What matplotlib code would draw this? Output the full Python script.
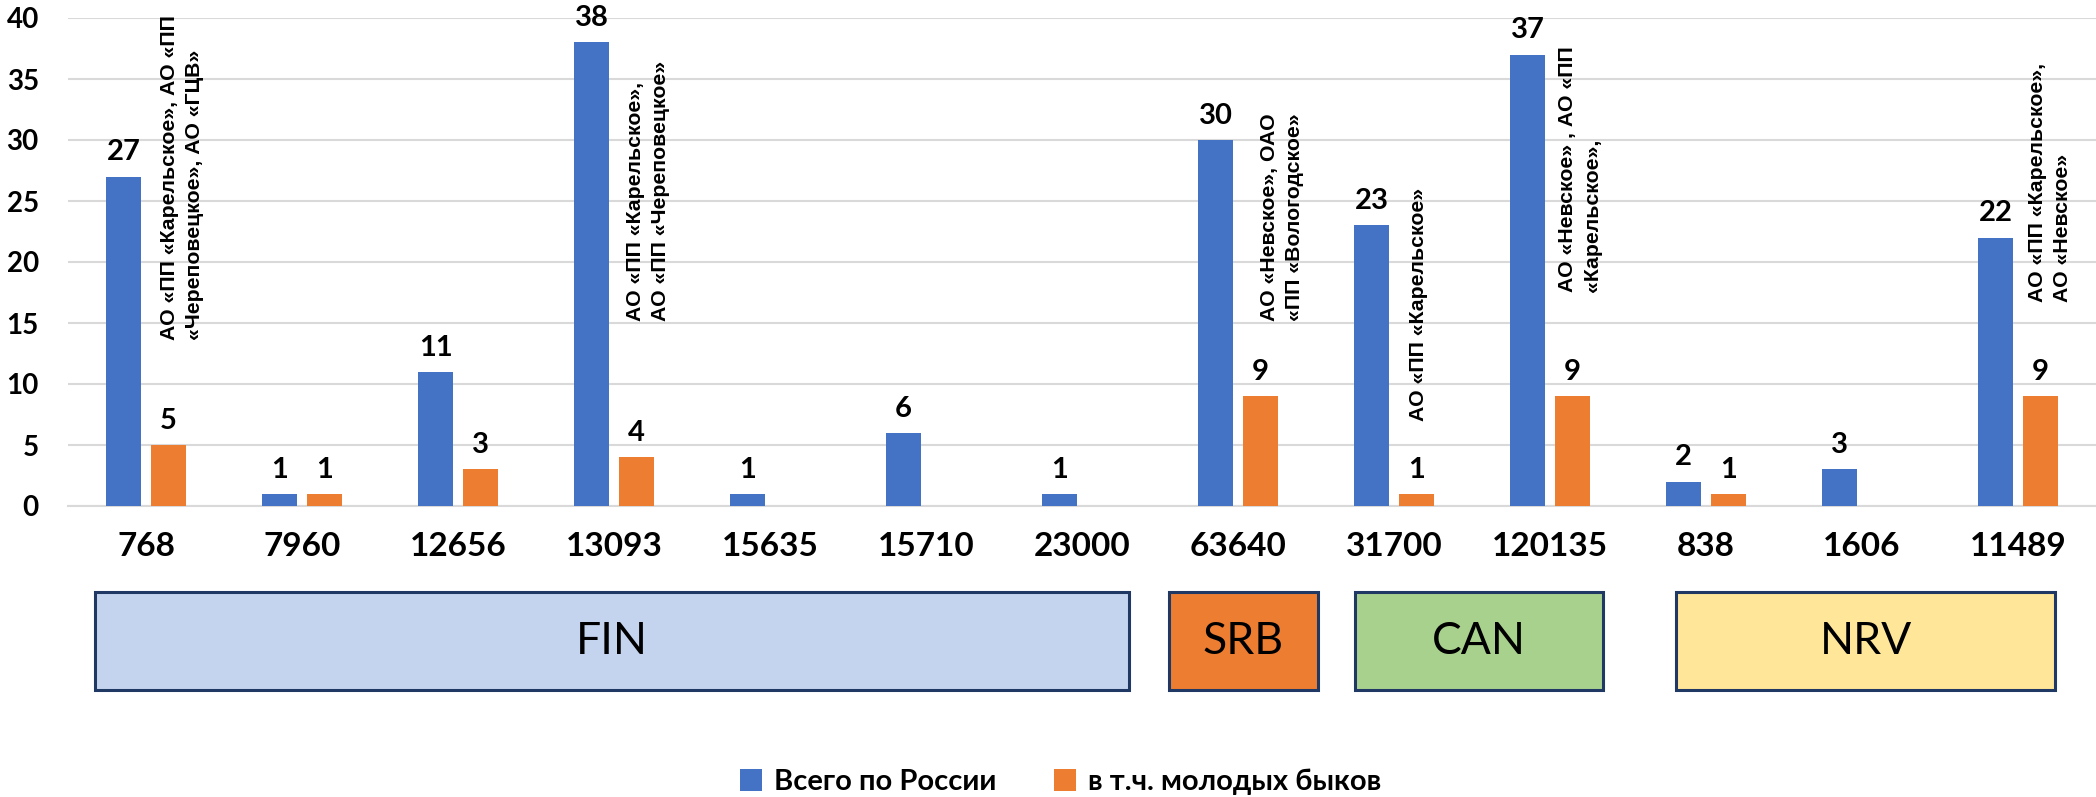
import matplotlib
matplotlib.use("Agg")
import numpy as np
import matplotlib.pyplot as plt
from matplotlib.patches import Rectangle
import matplotlib.transforms as mtransforms

# data
categories = ["768", "7960", "12656", "13093", "15635", "15710", "23000",
              "63640", "31700", "120135", "838", "1606", "11489"]
total_russia = [27, 1, 11, 38, 1, 6, 1, 30, 23, 37, 2, 3, 22]
young_bulls = [5, 1, 3, 4, 0, 0, 0, 9, 1, 9, 1, 0, 9]
series_names = ["Всего по России", "в т.ч. молодых быков"]

# notes next to some bars: (category index, text)
notes = [
    (0, "АО «ПП «Карельское», АО «ПП\n«Череповецкое», АО «ГЦВ»"),
    (3, "АО «ПП «Карельское»,\nАО «ПП «Череповецкое»"),
    (7, "АО «Невское», ОАО\n«ПП «Вологодское»"),
    (8, "АО «ПП «Карельское»"),
    (9, "АО «Невское» , АО «ПП\n«Карельское»,"),
    (12, "АО «ПП «Карельское»,\nАО «Невское»"),
]

groups = ["FIN", "SRB", "CAN", "NRV"]
group_colors = ["#C5D4EE", "#ED7D31", "#A9D18E", "#FFE699"]

# layout of the hand-placed pieces (data x, data y)
note_pos = [(0.23, 13.6), (0.215, 15.2), (0.28, 15.2), (0.154, 7.0), (0.19, 17.5), (0.205, 16.7)]
group_span = [(-0.327, 6.30), (6.56, 7.51), (7.75, 9.34), (9.81, 12.24)]

blue = "#4472C4"
orange = "#ED7D31"
grid_col = "#D9D9D9"
num_font = "Lato"

fig = plt.figure(figsize=(20.96, 7.97), dpi=100)
ax = fig.add_axes([68 / 2096, (797 - 506) / 797, 1 - 68 / 2096, 488 / 797])

x = np.arange(len(categories))
w = 0.224
off = 0.144
ax.bar(x - off, total_russia, w, color=blue, label=series_names[0], zorder=3)
yb = np.array(young_bulls, dtype=float)
yb[yb == 0] = np.nan
ax.bar(x + off, yb, w, color=orange, label=series_names[1], zorder=3)

for xi, v in zip(x, total_russia):
    ax.annotate(str(v), (xi - off, v), xytext=(0, 8), textcoords="offset points",
                ha="center", va="bottom", fontsize=21, fontweight="bold",
                family=num_font)
for xi, v in zip(x, young_bulls):
    if v:
        ax.annotate(str(v), (xi + off, v), xytext=(0, 8), textcoords="offset points",
                    ha="center", va="bottom", fontsize=21, fontweight="bold",
                    family=num_font)

for (i, txt), (dx, y0) in zip(notes, note_pos):
    ax.text(i + dx, y0, txt, rotation=90, rotation_mode="anchor",
            ha="left", va="center", multialignment="left", linespacing=1.4,
            fontsize=15.3, fontweight="bold", family="Liberation Sans", zorder=4)

ax.set_xlim(-0.5, len(categories) - 0.5)
ax.set_ylim(0, 40)
ax.set_yticks(range(0, 41, 5))
ax.set_xticks(x)
ax.set_xticklabels(categories)
ax.grid(axis="y", color=grid_col, linewidth=1.5, zorder=0)
ax.set_axisbelow(True)
for s in ["top", "right", "left"]:
    ax.spines[s].set_visible(False)
ax.spines["bottom"].set_color(grid_col)
ax.spines["bottom"].set_linewidth(1.5)
ax.tick_params(axis="y", length=0, pad=21, labelsize=20)
ax.tick_params(axis="x", length=0, pad=19, labelsize=24)
for lab in ax.get_xticklabels() + ax.get_yticklabels():
    lab.set_fontweight("bold")
    lab.set_family(num_font)

# country boxes under the axis
trans = mtransforms.blended_transform_factory(ax.transData, fig.transFigure)
box_bottom = (797 - 690) / 797
box_h = 98 / 797
for name, col, (x0, x1) in zip(groups, group_colors, group_span):
    ax.add_patch(Rectangle((x0, box_bottom), x1 - x0, box_h, transform=trans,
                           facecolor=col, edgecolor="#203864", linewidth=2.2,
                           clip_on=False, zorder=2))
    ax.text((x0 + x1) / 2, box_bottom + box_h / 2, name, transform=trans,
            ha="center", va="center", fontsize=32, family=num_font)

leg = fig.legend(loc="center", bbox_to_anchor=(0.506, 0.019), ncol=2, frameon=False,
                 prop={"family": num_font, "weight": "bold", "size": 21},
                 handlelength=0.75, handleheight=0.75, handletextpad=0.4,
                 columnspacing=2.0)

fig.savefig("out.png", dpi=100)
